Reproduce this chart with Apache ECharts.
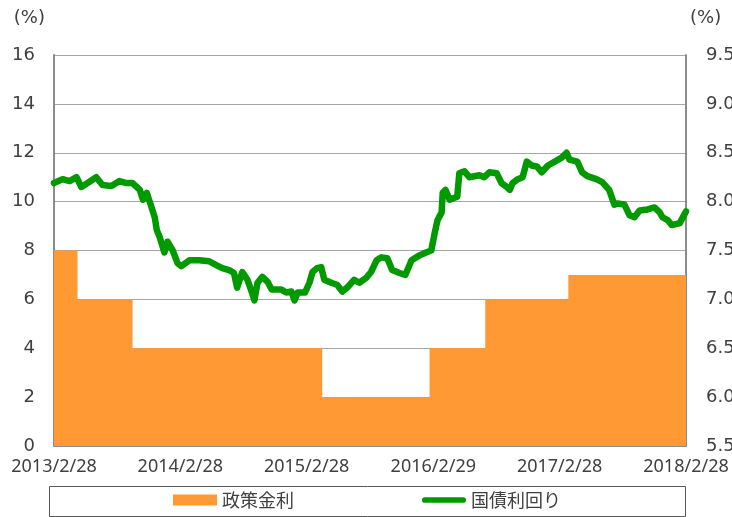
<!DOCTYPE html>
<html>
<head>
<meta charset="utf-8">
<title>政策金利と国債利回り</title>
<script src="https://cdn.jsdelivr.net/npm/echarts@6.0.0/dist/echarts.min.js"></script>
<style>
  html, body { margin: 0; padding: 0; background: #fff; }
  #chart { width: 732px; height: 517px; }
</style>
</head>
<body>
<div id="chart"></div>
<script>
// x軸の目盛り
const tickDates = ['2013-02-28', '2014-02-28', '2015-02-28', '2016-02-29', '2017-02-28', '2018-02-28'];
const tickLabels = ['2013/2/28', '2014/2/28', '2015/2/28', '2016/2/29', '2017/2/28', '2018/2/28'];

// 政策金利（左軸）：変更日とその後の水準
const policyDates = ['2013-02-28', '2013-05-07', '2013-10-13', '2015-04-14', '2016-02-18', '2016-07-28', '2017-03-25', '2018-02-28'];
const policyValues = [8, 6, 4, 2, 4, 6, 7, 7];

// 国債利回り（右軸）
const yieldDates = [
  '2013-02-28', '2013-03-25', '2013-04-14', '2013-05-04', '2013-05-18', '2013-06-05', '2013-06-30', '2013-07-18',
  '2013-08-13', '2013-09-05', '2013-09-25', '2013-10-13', '2013-11-03', '2013-11-12', '2013-11-23', '2013-12-07',
  '2013-12-16', '2013-12-22', '2013-12-30', '2014-01-13', '2014-01-22', '2014-02-06', '2014-02-20', '2014-03-03',
  '2014-03-26', '2014-04-24', '2014-05-22', '2014-06-12', '2014-06-29', '2014-07-19', '2014-08-02', '2014-08-11',
  '2014-08-26', '2014-09-10', '2014-09-22', '2014-09-30', '2014-10-09', '2014-10-23', '2014-11-07', '2014-11-19',
  '2014-12-03', '2014-12-17', '2014-12-31', '2015-01-15', '2015-01-24', '2015-02-02', '2015-02-23', '2015-03-08',
  '2015-03-17', '2015-03-30', '2015-04-11', '2015-04-20', '2015-05-10', '2015-05-27', '2015-06-11', '2015-06-25',
  '2015-07-15', '2015-07-30', '2015-08-19', '2015-09-02', '2015-09-18', '2015-10-02', '2015-10-19', '2015-11-02',
  '2015-11-23', '2015-12-10', '2015-12-28', '2016-01-20', '2016-02-08', '2016-02-23', '2016-03-04', '2016-03-12',
  '2016-03-24', '2016-03-27', '2016-04-04', '2016-04-16', '2016-05-08', '2016-05-14', '2016-05-29', '2016-06-12',
  '2016-07-11', '2016-07-25', '2016-08-09', '2016-08-30', '2016-09-13', '2016-09-28', '2016-10-07', '2016-10-15',
  '2016-10-30', '2016-11-13', '2016-11-25', '2016-12-09', '2016-12-24', '2017-01-07', '2017-01-25', '2017-02-14',
  '2017-03-06', '2017-03-20', '2017-03-28', '2017-04-20', '2017-05-04', '2017-05-19', '2017-06-14', '2017-07-01',
  '2017-07-21', '2017-08-05', '2017-08-14', '2017-09-03', '2017-09-18', '2017-10-02', '2017-10-17', '2017-11-09',
  '2017-11-29', '2017-12-14', '2017-12-22', '2018-01-06', '2018-01-18', '2018-02-10', '2018-02-25', '2018-02-28'
];
const yieldValues = [
  8.19, 8.23, 8.21, 8.25, 8.15, 8.19, 8.25, 8.17,
  8.16, 8.21, 8.19, 8.19, 8.12, 8.02, 8.09, 7.94,
  7.84, 7.71, 7.64, 7.48, 7.59, 7.50, 7.37, 7.34,
  7.40, 7.40, 7.39, 7.35, 7.32, 7.30, 7.27, 7.12,
  7.28, 7.20, 7.08, 6.99, 7.17, 7.23, 7.18, 7.10,
  7.10, 7.10, 7.07, 7.08, 6.99, 7.07, 7.07, 7.17,
  7.28, 7.32, 7.33, 7.20, 7.17, 7.15, 7.08, 7.12,
  7.20, 7.17, 7.22, 7.28, 7.40, 7.43, 7.42, 7.30,
  7.27, 7.25, 7.40, 7.45, 7.48, 7.50, 7.68, 7.81,
  7.89, 8.09, 8.12, 8.02, 8.05, 8.29, 8.31, 8.25,
  8.27, 8.25, 8.30, 8.29, 8.19, 8.15, 8.12, 8.19,
  8.23, 8.25, 8.41, 8.37, 8.36, 8.30, 8.37, 8.41,
  8.45, 8.50, 8.43, 8.41, 8.30, 8.26, 8.23, 8.20,
  8.12, 7.97, 7.98, 7.97, 7.86, 7.84, 7.91, 7.92,
  7.94, 7.89, 7.84, 7.81, 7.76, 7.78, 7.88, 7.90
];

// 日付文字列 → タイムスタンプ
function toTime(s) {
  const p = s.split('-').map(Number);
  return new Date(p[0], p[1] - 1, p[2]).getTime();
}

const tickTimes = tickDates.map(toTime);
const textColor = '#404040';

const myChart = echarts.init(document.getElementById('chart'));

let option = {
  animation: false,
  textStyle: { fontFamily: 'DejaVu Sans' },
  grid: {
    left: 54,
    right: 46,
    top: 55,
    bottom: 71,
    containLabel: false,
    outerBoundsMode: 'none'
  },
  // 凡例の枠
  graphic: [
    {
      type: 'rect',
      left: 47,
      top: 484,
      shape: { width: 636, height: 30 },
      style: { fill: 'none', stroke: '#595959', lineWidth: 1 },
      silent: true
    }
  ],
  legend: {
    left: 173,
    top: 491,
    padding: 0,
    itemGap: 128,
    itemWidth: 44,
    itemHeight: 11,
    textStyle: {
      color: textColor,
      fontSize: 18,
      fontFamily: 'Noto Sans CJK JP'
    },
    data: [
      { name: '政策金利', icon: 'rect' },
      { name: '国債利回り', icon: 'path://M3,0 L43,0 A3,3 0 0 1 43,6 L3,6 A3,3 0 0 1 3,0 Z' }
    ]
  },
  // 日付はタイムスタンプの数値軸で描く
  xAxis: {
    type: 'value',
    min: tickTimes[0],
    max: tickTimes[tickTimes.length - 1],
    axisLine: { onZero: false, lineStyle: { color: '#8c8c8c', width: 2 } },
    axisTick: {
      inside: true,
      length: 5,
      customValues: tickTimes,
      lineStyle: { color: '#8c8c8c', width: 1 }
    },
    axisLabel: {
      customValues: tickTimes,
      color: textColor,
      fontSize: 18,
      fontFamily: 'Noto Sans',
      margin: 12,
      hideOverlap: false,
      formatter: function (v) {
        const i = tickTimes.indexOf(v);
        return i >= 0 ? tickLabels[i] : '';
      }
    },
    splitLine: { show: false }
  },
  yAxis: [
    {
      type: 'value',
      min: 0,
      max: 16,
      interval: 2,
      name: '(%)',
      nameLocation: 'end',
      nameGap: 37,
      nameTextStyle: {
        color: textColor,
        fontSize: 18,
        align: 'right',
        verticalAlign: 'middle',
        padding: [0, 9, 0, 0]
      },
      axisLine: { show: true, lineStyle: { color: '#8c8c8c', width: 2 } },
      axisTick: { show: false },
      axisLabel: { color: textColor, fontSize: 18, margin: 19 },
      splitLine: { lineStyle: { color: '#a6a6a6', width: 1.2 } }
    },
    {
      type: 'value',
      min: 5.5,
      max: 9.5,
      interval: 0.5,
      name: '(%)',
      nameLocation: 'end',
      nameGap: 37,
      nameTextStyle: {
        color: textColor,
        fontSize: 18,
        align: 'left',
        verticalAlign: 'middle',
        padding: [0, 0, 0, 4]
      },
      axisLine: { show: true, lineStyle: { color: '#8c8c8c', width: 2 } },
      axisTick: { show: false },
      axisLabel: {
        color: textColor,
        fontSize: 18,
        margin: 20,
        formatter: function (v) { return v.toFixed(1); }
      },
      splitLine: { show: false }
    }
  ],
  series: [
    {
      name: '政策金利',
      type: 'line',
      step: 'end',
      yAxisIndex: 0,
      symbol: 'none',
      color: '#ff9933',
      lineStyle: { width: 0 },
      areaStyle: { color: '#ff9933', opacity: 1 },
      data: policyDates.map((d, i) => [toTime(d), policyValues[i]])
    },
    {
      name: '国債利回り',
      type: 'line',
      yAxisIndex: 1,
      symbol: 'none',
      color: '#009900',
      lineStyle: { width: 6.5, color: '#009900', cap: 'round', join: 'round' },
      data: yieldDates.map((d, i) => [toTime(d), yieldValues[i]])
    }
  ]
};

option && myChart.setOption(option);
</script>
</body>
</html>
